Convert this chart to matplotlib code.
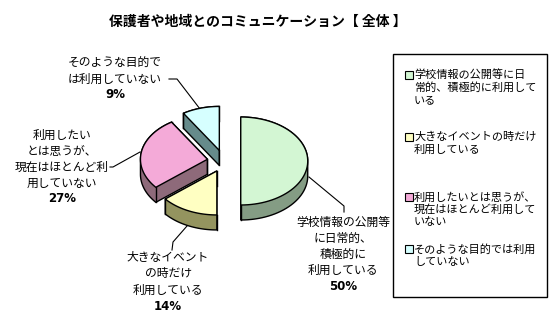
import numpy as np
import matplotlib
matplotlib.use('Agg')
import matplotlib.pyplot as plt
from matplotlib.patches import Polygon, Rectangle

plt.rcParams['font.family'] = ['Noto Sans CJK JP', 'DejaVu Sans']

title = '保護者や地域とのコミュニケーション【 全体 】'
values = [50, 14, 27, 9]
slice_labels = ['学校情報の公開等\nに日常的、\n積極的に\n利用している',
                '大きなイベント\nの時だけ\n利用している',
                '利用したい\nとは思うが、\n現在はほとんど利\n用していない',
                'そのような目的で\nは利用していない']
legend_labels = ['学校情報の公開等に日\n常的、積極的に利用して\nいる',
                 '大きなイベントの時だけ\n利用している',
                 '利用したいとは思うが、\n現在はほとんど利用して\nいない',
                 'そのような目的では利用\nしていない']
top_colors = ['#d3f6d3', '#ffffc2', '#f4aad8', '#d6ffff']
side_colors = ['#849c84', '#94945f', '#8e6a7a', '#668b8b']

# pie geometry in pixels (y down)
cx, cy = 224, 161
rx, ry = 67, 44
depth = 15
explode = 0.25


def hull(pts):
    pts = sorted(set(map(tuple, np.round(pts, 4))))
    def cross(o, a, b):
        return (a[0] - o[0]) * (b[1] - o[1]) - (a[1] - o[1]) * (b[0] - o[0])
    lower, upper = [], []
    for p in pts:
        while len(lower) >= 2 and cross(lower[-2], lower[-1], p) <= 0:
            lower.pop()
        lower.append(p)
    for p in reversed(pts):
        while len(upper) >= 2 and cross(upper[-2], upper[-1], p) <= 0:
            upper.pop()
        upper.append(p)
    return np.array(lower[:-1] + upper[:-1])


fig = plt.figure(figsize=(5.5, 3.2), dpi=100)
ax = fig.add_axes([0, 0, 1, 1])
ax.set_xlim(0, 550)
ax.set_ylim(320, 0)
ax.axis('off')

ax.text(258, 22, title, ha='center', va='center', fontsize=10, fontweight='bold')

# build slices first, then draw back to front
total = float(sum(values))
cum = 0
slices = []
for v, tc, sc in zip(values, top_colors, side_colors):
    a1 = 90 - cum / total * 360
    a2 = 90 - (cum + v) / total * 360
    cum += v
    mid = np.radians((a1 + a2) / 2)
    ox = cx + explode * rx * np.cos(mid)
    oy = cy - explode * ry * np.sin(mid)
    t = np.radians(np.linspace(a1, a2, 60))
    arc = np.column_stack([ox + rx * np.cos(t), oy - ry * np.sin(t)])
    top = np.vstack([[ox, oy], arc])
    slices.append((oy, top, tc, sc))

slices.sort(key=lambda s: s[0])
for k, (oy, top, tc, sc) in enumerate(slices):
    z = 3 * k + 1
    bottom = top + [0, depth]
    # side walls as silhouette of extruded slice
    ax.add_patch(Polygon(hull(np.vstack([top, bottom])), closed=True,
                         facecolor=sc, edgecolor='black', linewidth=1, zorder=z))
    for p in [top[0], top[1], top[-1]]:
        ax.plot([p[0], p[0]], [p[1], p[1] + depth], color='black', lw=1, zorder=z + 1)
    ax.add_patch(Polygon(top, closed=True, facecolor=tc,
                         edgecolor='black', linewidth=1, zorder=z + 2))

# data labels with leader lines
label_pos = [(343, 222), (168, 258), (62, 135), (115, 63)]
leaders = [[(309, 177), (344, 206), (344, 212)],
           [(187, 226), (173, 242), (172, 250)],
           [(140, 152), (113, 167), (110, 167)],
           [(200, 109), (177, 79), (169, 79)]]
line_h = 16
for lab, v, (x, y), ld in zip(slice_labels, values, label_pos, leaders):
    lines = lab.split('\n')
    for i, ln in enumerate(lines):
        ax.text(x, y + i * line_h, ln, ha='center', va='center', fontsize=8.5)
    ax.text(x, y + len(lines) * line_h, f'{v}%', ha='center', va='center',
            fontsize=8.5, fontweight='bold', family='DejaVu Sans')
    ld = np.array(ld)
    ax.plot(ld[:, 0], ld[:, 1], color='black', lw=0.8)

# legend
ax.add_patch(Rectangle((393, 54), 154, 243, facecolor='white',
                       edgecolor='black', linewidth=1))
legend_y = [75, 137, 197, 249]
for lab, tc, y in zip(legend_labels, top_colors, legend_y):
    ax.add_patch(Rectangle((405, y - 4), 8, 8, facecolor=tc,
                           edgecolor='black', linewidth=0.8))
    for i, ln in enumerate(lab.split('\n')):
        ax.text(414, y + i * 12.5, ln, ha='left', va='center', fontsize=8)

fig.savefig('out.png', dpi=100)
